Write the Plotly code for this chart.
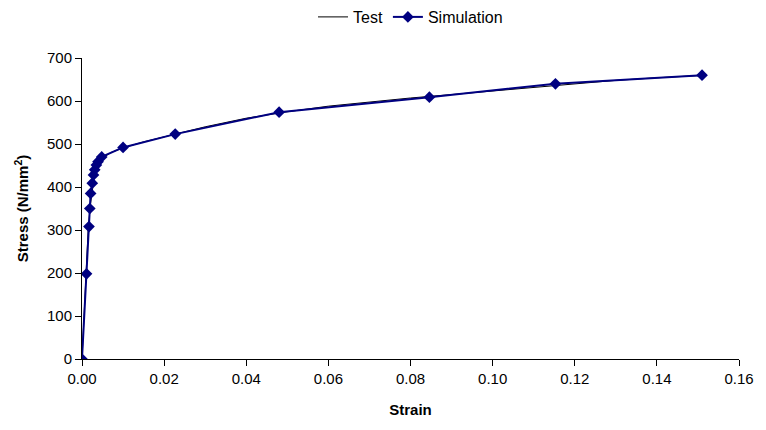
import plotly.graph_objects as go

# Measured tensile test curve
test_strain = [0.0, 0.0005, 0.001, 0.0015, 0.002, 0.0025, 0.003, 0.004, 0.005, 0.007,
               0.010, 0.015, 0.020, 0.030, 0.040, 0.050, 0.060, 0.070, 0.080, 0.090,
               0.100, 0.110, 0.120, 0.130, 0.140, 0.150]
test_stress = [0, 100, 198, 300, 355, 395, 424, 452, 467, 480,
               491, 505, 517, 540, 560, 575, 588, 598, 607, 615,
               623, 631, 640, 648, 654, 659]

# Simulated response
sim_strain = [0.0, 0.0011, 0.0017, 0.0019, 0.0021, 0.0025, 0.0028, 0.0031, 0.0035,
              0.0039, 0.0048, 0.0100, 0.0227, 0.0480, 0.0846, 0.1153, 0.1510]
sim_stress = [0, 198, 308, 350, 385, 409, 428, 440, 451,
              459, 470, 492, 523, 574, 609, 640, 660]

x_ticks = [0.00, 0.02, 0.04, 0.06, 0.08, 0.10, 0.12, 0.14, 0.16]
y_ticks = [0, 100, 200, 300, 400, 500, 600, 700]

fig = go.Figure()
fig.add_trace(go.Scatter(
    x=test_strain, y=test_stress, mode="lines", name="Test",
    line=dict(color="black", width=1),
))
fig.add_trace(go.Scatter(
    x=sim_strain, y=sim_stress, mode="lines+markers", name="Simulation",
    line=dict(color="#000080", width=2),
    marker=dict(symbol="diamond", size=9, color="#000080"),
))

fig.update_layout(
    width=766, height=430,
    margin=dict(l=82, r=22, t=58, b=71),
    paper_bgcolor="white", plot_bgcolor="white",
    font=dict(family="Liberation Sans, Arial", size=15, color="black"),
    showlegend=True,
    legend=dict(orientation="h", x=0.5, xanchor="center", y=1.0, yanchor="top",
                yref="container", font=dict(size=16), itemwidth=30,
                bgcolor="rgba(0,0,0,0)"),
    xaxis=dict(
        range=[0, 0.16], tickvals=x_ticks, tickformat=".2f",
        showline=True, linecolor="black", linewidth=1,
        ticks="outside", ticklen=6, tickcolor="black",
        showgrid=False, zeroline=False,
        title=dict(text="<b>Strain</b>", font=dict(size=15), standoff=18),
    ),
    yaxis=dict(
        range=[0, 700], tickvals=y_ticks,
        showline=True, linecolor="black", linewidth=1,
        ticks="outside", ticklen=6, tickcolor="black",
        showgrid=False, zeroline=False,
        title=dict(text="<b>Stress (N/mm<sup>2</sup>)</b>", font=dict(size=15), standoff=14),
    ),
)

fig.write_html("out.html")
